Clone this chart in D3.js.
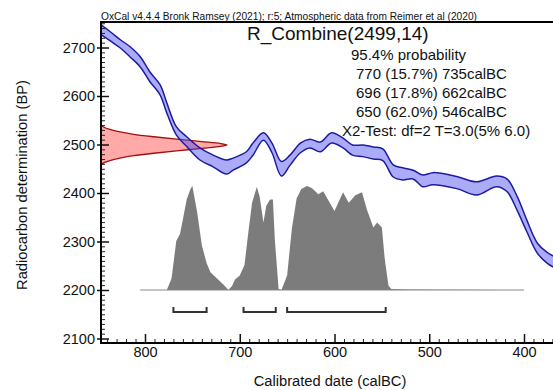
<!DOCTYPE html>
<html><head><meta charset="utf-8">
<script src="https://cdn.jsdelivr.net/npm/d3@7"></script>
<style>
body{margin:0;background:#fff}
svg{display:block}
text{font-family:"Liberation Sans",Arial,Helvetica,sans-serif;fill:#111}
</style>
</head><body>
<svg id="chart" width="553" height="390"></svg>
<script>
// ---- Data ----
const headerText = "OxCal v4.4.4 Bronk Ramsey (2021); r:5; Atmospheric data from Reimer et al (2020)";
const titleText = "R_Combine(2499,14)";
const infoLines = ["95.4% probability","770 (15.7%) 735calBC","696 (17.8%) 662calBC","650 (62.0%) 546calBC","X2-Test: df=2 T=3.0(5% 6.0)"];
const xLabel = "Calibrated date (calBC)";
const yLabel = "Radiocarbon determination (BP)";

const yTicks = [2100,2200,2300,2400,2500,2600,2700];
const xTicks = [800,700,600,500,400];

// calibration curve (calBC) with upper / lower 1-sigma edges (BP)
const calYear  = [846,837,826,816,805,795,784,777,767,756,742,728,714,707,693,686,675,666,656,647,636,626,615,603,591,581,570,559,549,538,528,517,507,496,471,450,429,418,407,397,386,376,369];
const calUpper = [2746,2733,2716,2702,2681,2650,2623,2586,2537,2516,2493,2478,2468,2472,2485,2503,2524,2503,2465,2478,2503,2511,2505,2524,2513,2499,2499,2495,2491,2458,2452,2447,2437,2442,2434,2423,2435,2429,2392,2344,2297,2278,2270];
const calLower = [2726,2714,2699,2681,2660,2630,2602,2565,2520,2496,2468,2454,2439,2447,2462,2478,2509,2483,2435,2457,2483,2493,2485,2503,2493,2478,2475,2470,2467,2433,2427,2429,2413,2417,2409,2396,2413,2403,2363,2320,2276,2256,2247];

// posterior calibrated date distribution (relative probability)
const probYear  = [805,777,772,767,763,760,756,752,750,745,740,735,731,724,717,712,708,705,700,695,691,687,682,679,675,672,668,665,663,659,656,650,645,640,635,629,624,617,612,605,600,591,585,578,571,566,559,555,550,547,543,540,520,400];
const probValue = [0,0,0.11,0.47,0.54,0.68,0.87,0.97,1.0,0.75,0.43,0.26,0.17,0.11,0.05,0.0,0.04,0.10,0.14,0.24,0.55,0.84,0.99,0.90,0.65,0.81,0.87,0.87,0.49,0.01,0,0.14,0.59,0.88,0.97,1.0,0.98,0.92,0.95,0.84,0.76,0.94,0.84,0.91,0.94,0.78,0.60,0.65,0.60,0.30,0.04,0.01,0.005,0];

// radiocarbon determination R_Combine(2499,14) shown on y axis
const rDateBP      = [2541,2536,2531,2526,2521,2516,2511,2506,2502,2499,2496,2492,2487,2482,2477,2472,2467,2462,2457];
const rDateDensity = [0,0.02,0.07,0.15,0.26,0.42,0.60,0.80,0.95,1.0,0.95,0.80,0.60,0.42,0.26,0.15,0.07,0.02,0];

// 95.4% ranges (calBC)
const rangeStart = [770,696,650];
const rangeEnd   = [735,662,546];

// ---- Layout ----
const L = 101, R = 553, T = 22, B = 343;
const svg = d3.select("#chart");
svg.append("rect").attr("width",553).attr("height",390).attr("fill","#fff");

const x = d3.scaleLinear().domain([800,400]).range([145,524]);
const y = d3.scaleLinear().domain([2700,2100]).range([47.5,338.5]);
const rx = d3.scaleLinear().domain([0,1]).range([L,227]);
const hy = d3.scaleLinear().domain([0,1]).range([y(2200), y(2200)-104]);

svg.append("defs").append("clipPath").attr("id","plot")
  .append("rect").attr("x",L).attr("y",T).attr("width",R-L).attr("height",B-T);
const g = svg.append("g").attr("clip-path","url(#plot)");

// red radiocarbon distribution
const rData = rDateBP.map((b,i)=>({b, d:rDateDensity[i]}));
g.append("path").datum(rData)
  .attr("d", d3.area().y(d=>y(d.b)).x0(rx(0)).x1(d=>rx(d.d)).curve(d3.curveMonotoneY))
  .attr("fill","rgb(255,64,64)").attr("fill-opacity",0.45);
g.append("path").datum(rData)
  .attr("d", d3.line().y(d=>y(d.b)).x(d=>rx(d.d)).curve(d3.curveMonotoneY))
  .attr("fill","none").attr("stroke","#a01010").attr("stroke-width",1.3);

// calibration curve band
const cData = calYear.map((yr,i)=>({yr, u:calUpper[i], l:calLower[i]}));
g.append("path").datum(cData)
  .attr("d", d3.area().x(d=>x(d.yr)).y0(d=>y(d.l)).y1(d=>y(d.u)).curve(d3.curveCatmullRom))
  .attr("fill","rgb(80,80,240)").attr("fill-opacity",0.48);
["u","l"].forEach(k=>{
  g.append("path").datum(cData)
    .attr("d", d3.line().x(d=>x(d.yr)).y(d=>y(d[k])).curve(d3.curveCatmullRom))
    .attr("fill","none").attr("stroke","#1c1ca0").attr("stroke-width",1.5);
});

// posterior histogram
const pData = probYear.map((yr,i)=>({yr, p:probValue[i]}));
g.append("path").datum(pData)
  .attr("d", d3.area().x(d=>x(d.yr)).y0(hy(0)).y1(d=>hy(d.p)))
  .attr("fill","#7c7c7c");
g.append("line")
  .attr("x1",x(probYear[0])).attr("x2",x(probYear[probYear.length-1]))
  .attr("y1",hy(0)).attr("y2",hy(0)).attr("stroke","#888").attr("stroke-width",1);

// range brackets
const by = 312;
rangeStart.forEach((s,i)=>{
  g.append("path")
    .attr("d",`M${x(s)},${by-5}V${by}H${x(rangeEnd[i])}V${by-5}`)
    .attr("fill","none").attr("stroke","#333").attr("stroke-width",2);
});

// ---- Axes ----
const fontTick = "14.5px";
const yMinor = d3.range(2100,2751,10).filter(v=>v%100!==0);
svg.append("g").attr("transform",`translate(${L},0)`)
  .call(d3.axisRight(y).tickValues(yMinor).tickSize(4).tickFormat(""))
  .call(a=>a.select(".domain").remove())
  .call(a=>a.selectAll(".tick line").attr("stroke","#222").attr("stroke-width",1));
svg.append("g").attr("transform",`translate(${L},0)`)
  .call(d3.axisLeft(y).tickValues(yTicks).tickSize(4).tickPadding(2).tickFormat(d3.format("d")))
  .call(a=>a.select(".domain").remove())
  .call(a=>a.selectAll(".tick line").attr("x1",8).attr("stroke","#111").attr("stroke-width",1.5))
  .call(a=>a.selectAll("text").style("font-size",fontTick).attr("fill","#111"));
const xMinor = d3.range(370,850,10).filter(v=>v%100!==0 && x(v)>L && x(v)<R);
svg.append("g").attr("transform",`translate(0,${B})`)
  .call(d3.axisBottom(x).tickValues(xMinor).tickSize(-4).tickFormat(""))
  .call(a=>a.select(".domain").remove())
  .call(a=>a.selectAll(".tick line").attr("stroke","#222").attr("stroke-width",1));
svg.append("g").attr("transform",`translate(0,${B})`)
  .call(d3.axisBottom(x).tickValues(xTicks).tickSize(-9).tickPadding(4).tickFormat(d3.format("d")))
  .call(a=>a.select(".domain").remove())
  .call(a=>a.selectAll(".tick line").attr("stroke","#111").attr("stroke-width",1.5))
  .call(a=>a.selectAll("text").style("font-size",fontTick).attr("fill","#111"));

// frame lines
svg.append("line").attr("x1",L).attr("x2",L).attr("y1",T).attr("y2",B+1).attr("stroke","#000").attr("stroke-width",2);
svg.append("line").attr("x1",L-1).attr("x2",R).attr("y1",B).attr("y2",B).attr("stroke","#000").attr("stroke-width",2);
svg.append("line").attr("x1",L-1).attr("x2",R).attr("y1",T).attr("y2",T).attr("stroke","#000").attr("stroke-width",2);

// ---- Texts ----
svg.append("text").attr("x",L).attr("y",19.5).style("font-size","10.2px").text(headerText);
svg.append("text").attr("x",247).attr("y",40).style("font-size","19px").text(titleText);
const infoX = [351,356,356,356,342];
const infoY = [60,79,98,117,136];
infoLines.forEach((t,i)=>{
  svg.append("text").attr("x",infoX[i]).attr("y",infoY[i]).style("font-size","15px").text(t);
});
svg.append("text").attr("x",330).attr("y",386).attr("text-anchor","middle").style("font-size","14.7px").text(xLabel);
svg.append("text").attr("transform","translate(27,185) rotate(-90)").attr("text-anchor","middle").style("font-size","14.7px").text(yLabel);
</script>
</body></html>
